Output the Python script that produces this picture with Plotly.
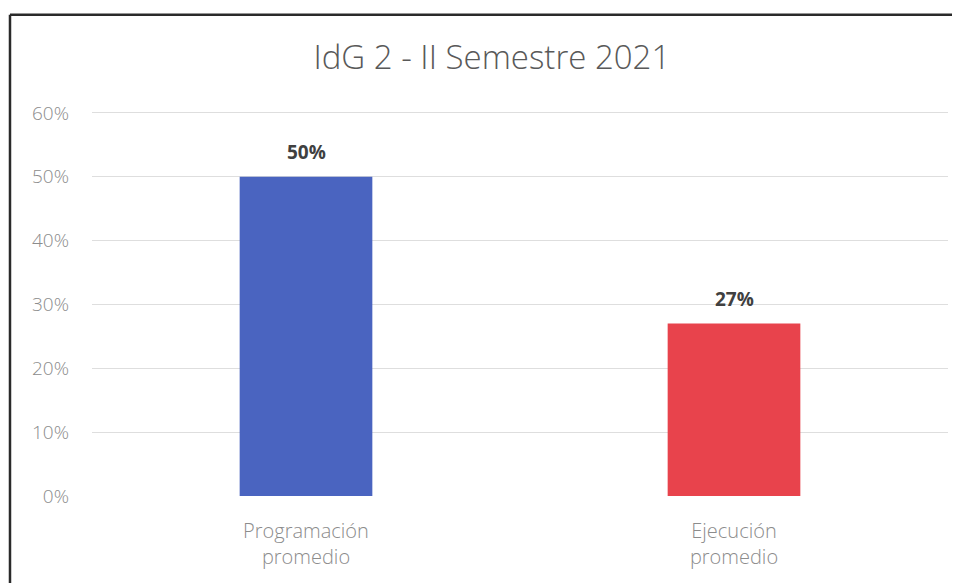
import plotly.graph_objects as go

categories = ["Programación<br>promedio", "Ejecución<br>promedio"]
values = [0.50, 0.27]
labels = ["50%", "27%"]
colors = ["#4a64c0", "#e8434c"]
y_ticks = [0, 0.1, 0.2, 0.3, 0.4, 0.5, 0.6]
y_tick_text = ["0%", "10%", "20%", "30%", "40%", "50%", "60%"]

fig = go.Figure(go.Bar(
    x=categories, y=values,
    marker=dict(color=colors, line=dict(width=0)),
    width=0.31,
))

for c, v, t in zip(categories, values, labels):
    fig.add_annotation(x=c, y=v, text=t, showarrow=False, yanchor="bottom", yshift=10,
                       font=dict(family="Open Sans", size=19, color="#404040", weight="bold"))

fig.update_layout(
    width=960, height=583,
    paper_bgcolor="white", plot_bgcolor="white",
    margin=dict(l=84, r=20, t=103, b=95),
    title=dict(text="IdG 2 - II Semestre 2021", x=0.504, xanchor="center", y=0.916, yanchor="middle",
               font=dict(family="Open Sans", size=33, color="#595959", weight=300)),
    showlegend=False,
)
fig.update_yaxes(range=[0, 0.603], tickvals=y_ticks, ticktext=y_tick_text,
                 showgrid=True, gridcolor="#dedede", gridwidth=1, zeroline=False,
                 showline=False, ticks="", ticklabelstandoff=22,
                 tickfont=dict(family="Open Sans", size=19, color="#8c8c8c", weight=300))
fig.update_xaxes(showgrid=False, showline=False, ticks="", ticklabelstandoff=21,
                 tickfont=dict(family="Open Sans", size=20, color="#8c8c8c", weight=300))

# scanned chart frame: left edge and top edge
fig.add_shape(type="line", xref="paper", yref="paper", x0=-0.0958, x1=-0.0958, y0=-0.3, y1=1.25,
              line=dict(color="#2a2a2a", width=2.5))
fig.add_shape(type="line", xref="paper", yref="paper", x0=-0.0958, x1=1.03, y0=1.25, y1=1.25,
              line=dict(color="#2a2a2a", width=2.5))

fig.write_html("out.html")
